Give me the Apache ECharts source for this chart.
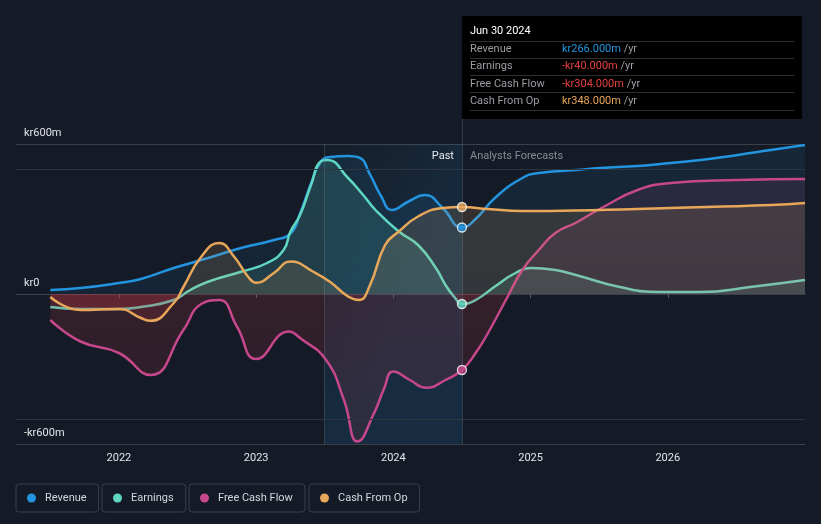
<!DOCTYPE html>
<html><head><meta charset="utf-8">
<script src="https://cdn.jsdelivr.net/npm/echarts@6/dist/echarts.min.js"></script>
<style>html,body{margin:0;padding:0;background:#151b26;}#c{width:821px;height:524px;}</style>
</head><body><div id="c"></div>
<script>
// ---- data (x in decimal years, values in kr millions) ----
const yearTicks = [2022, 2023, 2024, 2025, 2026];
const yTickValues = [-600, 0, 600];
const yTickLabels = ['-kr600m', 'kr0', 'kr600m'];
const guideValues = [500, -500];
const pastRange = [2023.5, 2024.5];
const currentX = 2024.5;
const currentLabel = 'Jun 30 2024';
const seriesNames = ['Revenue', 'Earnings', 'Free Cash Flow', 'Cash From Op'];

const revenue = [[2021.5,16],[2021.72,24],[2022.0,44],[2022.16,60],[2022.4,104],[2022.65,144],[2022.89,184],[2023.13,216],[2023.25,242],[2023.32,322],[2023.40,442],[2023.47,528],[2023.54,548],[2023.67,552],[2023.75,546],[2023.83,478],[2023.91,392],[2023.99,336],[2024.11,370],[2024.23,396],[2024.36,344],[2024.5,266],[2024.6,300],[2024.74,384],[2024.94,464],[2025.06,484],[2025.33,496],[2025.51,504],[2025.78,512],[2026.02,524],[2026.24,536],[2026.51,556],[2026.75,576],[2027.0,596]];
const earnings = [[2021.5,-52],[2021.72,-60],[2022.0,-60],[2022.16,-52],[2022.4,-24],[2022.52,16],[2022.65,49],[2022.89,89],[2023.08,124],[2023.2,176],[2023.25,250],[2023.32,316],[2023.40,436],[2023.47,530],[2023.52,536],[2023.67,464],[2023.78,396],[2023.87,336],[2024.04,250],[2024.18,196],[2024.31,104],[2024.38,36],[2024.45,-16],[2024.5,-40],[2024.6,-24],[2024.74,30],[2024.89,84],[2025.01,104],[2025.18,96],[2025.33,76],[2025.65,28],[2025.94,8],[2026.24,8],[2026.6,28],[2027.0,56]];
const freeCashFlow = [[2021.5,-104],[2021.72,-190],[2022.0,-236],[2022.23,-324],[2022.47,-144],[2022.6,-40],[2022.73,-24],[2022.86,-130],[2023.0,-260],[2023.24,-150],[2023.32,-176],[2023.51,-264],[2023.64,-424],[2023.74,-590],[2023.86,-476],[2023.93,-382],[2024.0,-310],[2024.12,-344],[2024.24,-375],[2024.38,-344],[2024.5,-304],[2024.6,-236],[2024.69,-156],[2024.82,-24],[2024.94,96],[2025.06,176],[2025.18,244],[2025.33,285],[2025.53,348],[2025.78,416],[2026.02,444],[2026.51,456],[2027.0,460]];
const cashFromOp = [[2021.5,-12],[2021.72,-64],[2022.0,-60],[2022.16,-96],[2022.23,-107],[2022.4,-36],[2022.47,28],[2022.6,149],[2022.73,204],[2022.84,149],[2022.94,70],[2023.0,45],[2023.13,84],[2023.25,130],[2023.42,88],[2023.54,48],[2023.67,-10],[2023.75,-24],[2023.83,36],[2023.94,196],[2024.04,250],[2024.18,310],[2024.36,344],[2024.5,348],[2024.69,340],[2024.94,332],[2025.33,334],[2026.02,344],[2026.75,356],[2027.0,364]];

// ---- styling ----
const colors = ['#2394df', '#5fd6c1', '#c6478b', '#e9a75a'];
const rgbs = [[35,148,223],[95,214,193],[198,71,139],[233,167,90]];
const areaAlpha = [0.14, 0.22, 0.16, 0.22];
const red = [205,55,65];
const GRID = {left:16, right:16, top:144, bottom:80};
const H = 524;
const dataSets = [revenue, earnings, freeCashFlow, cashFromOp];

function rgba(c,a){return 'rgba('+c[0]+','+c[1]+','+c[2]+','+a+')';}
function areaGrad(i){
  const y0 = GRID.top, y1 = H - GRID.bottom;
  return {type:'linear', x:0, y:y0, x2:0, y2:y1, global:true, colorStops:[
    {offset:0, color:rgba(rgbs[i], areaAlpha[i])},
    {offset:0.5, color:rgba(rgbs[i], areaAlpha[i]*0.85)},
    {offset:0.5, color:rgba(red, 0.23)},
    {offset:1, color:rgba(red, 0.17)}]};
}
const drawOrder = [0, 2, 3, 1];
const series = drawOrder.map(i => ({
  name: seriesNames[i], type:'line', data: dataSets[i], smooth:0.5,
  symbol:'none', lineStyle:{color:colors[i], width:2.5}, itemStyle:{color:colors[i]},
  areaStyle:{color:areaGrad(i), origin:0}, z: 2 + i,
}));
// past region + guides on first series
series[0].markArea = {silent:true, z:1, itemStyle:{color:{type:'linear',x:0,y:0,x2:1,y2:0.3,colorStops:[{offset:0,color:'rgba(35,148,223,0.02)'},{offset:1,color:'rgba(35,148,223,0.14)'}]}},
  data:[[{xAxis:pastRange[0]},{xAxis:pastRange[1]}]]};
series[0].markLine = {silent:true, symbol:'none', label:{show:false}, animation:false,
  data: guideValues.map(v=>({yAxis:v, lineStyle:{color:'#2f353f', width:1, type:'solid'}}))
   .concat(pastRange.map(v=>({xAxis:v, lineStyle:{color:'rgba(110,130,150,0.35)', width:1, type:'solid'}})))};
// markers at current point
series.push({type:'scatter', z:20, symbol:'circle', symbolSize:9, silent:true,
  data: dataSets.map((d,i)=>{const p=d.find(q=>q[0]===currentX); return {value:p, itemStyle:{color:colors[i], borderColor:'#ffffff', borderWidth:1.3}};})});

const legends = seriesNames.map((n,i)=>({
  data:[{name:n, itemStyle:{color:colors[i]}}], left:[16,102,189,309][i], top:484, orient:'horizontal',
  padding:[7,12,7,11], borderColor:'#3a404b', borderWidth:1, borderRadius:3,
  icon:'circle', itemWidth:9, itemHeight:9, selectedMode:false,
  textStyle:{color:'#d3d6db', fontSize:11, fontFamily:'Roboto', padding:[0,0,0,4], lineHeight:14}
}));

const chart = echarts.init(document.getElementById('c'), null, {renderer:'canvas'});
chart.setOption({
  backgroundColor:'#151b26', animation:false,
  grid:{left:GRID.left, right:GRID.right, top:GRID.top, bottom:GRID.bottom, containLabel:false},
  legend: legends,
  xAxis:{type:'value', min:2021.25, max:2027,
    axisLine:{show:true, lineStyle:{color:'#3c424d'}},
    axisTick:{show:true, customValues:yearTicks, length:4, lineStyle:{color:'#555c68'}},
    axisLabel:{customValues:yearTicks, formatter:v=>String(Math.round(v)), color:'#e2e4e8', fontSize:11, fontFamily:'Roboto', margin:9},
    splitLine:{show:false}},
  yAxis:{type:'value', min:-600, max:600, interval:600,
    axisLine:{show:false}, axisTick:{show:false},
    axisLabel:{inside:true, showMinLabel:true, showMaxLabel:true, margin:8, align:'left', verticalAlign:'bottom', padding:[0,0,5,0],
      color:'#e2e4e8', fontSize:11, fontFamily:'Roboto', formatter:v=>yTickLabels[yTickValues.indexOf(v)]},
    splitLine:{show:true, lineStyle:{color:['#3a404a','#ffffff','#3a404a'], width:1}}},
  series: series
});

// annotation box (tooltip-like)
function fmt(v){return (v<0?'-kr':'kr') + Math.abs(v).toFixed(3) + 'm';}
const cx = chart.convertToPixel({xAxisIndex:0}, currentX);
const topY = GRID.top;
const boxX = cx, boxY = 16, boxW = 340, boxH = 103;
const rowY = [49.5, 66.5, 84, 101];
const sepY = [41.5, 58.5, 75.5, 92.5, 110.5];
const g = [];
g.push({type:'rect', shape:{x:boxX, y:boxY, width:boxW, height:boxH}, style:{fill:'#000000'}, z:50});
g.push({type:'line', shape:{x1:cx+0.5, y1:boxY+boxH, x2:cx+0.5, y2:topY}, style:{stroke:'rgba(110,130,150,0.35)', lineWidth:1}, z:50});
sepY.forEach(y=>g.push({type:'line', shape:{x1:boxX+8, y1:y, x2:boxX+332, y2:y}, style:{stroke:'#2f2f2f', lineWidth:1}, z:51}));
g.push({type:'text', x:boxX+8, y:31.5, style:{text:currentLabel, fill:'#ffffff', fontSize:11, fontFamily:'Roboto', verticalAlign:'middle'}, z:52});
seriesNames.forEach((n,i)=>{
  const v = dataSets[i].find(q=>q[0]===currentX)[1];
  const vc = v<0 ? '#e5413f' : colors[i];
  g.push({type:'text', x:boxX+8, y:rowY[i], style:{text:n, fill:'#9a9da3', fontSize:11, fontFamily:'Roboto', verticalAlign:'middle'}, z:52});
  g.push({type:'text', x:boxX+100, y:rowY[i], style:{text:'{v|'+fmt(v)+'} {u|/yr}', verticalAlign:'middle', fontSize:11, fontFamily:'Roboto',
    rich:{v:{fill:vc, fontSize:11, fontFamily:'Roboto'}, u:{fill:'#9a9da3', fontSize:11, fontFamily:'Roboto'}}}, z:52});
});
g.push({type:'text', x:cx-8, y:156.5, style:{text:'Past', fill:'#e6e8ec', fontSize:11, fontFamily:'Roboto', align:'right', verticalAlign:'middle'}, z:30});
g.push({type:'text', x:cx+8, y:156.5, style:{text:'Analysts Forecasts', fill:'#868b93', fontSize:11, fontFamily:'Roboto', align:'left', verticalAlign:'middle'}, z:30});
chart.setOption({graphic:{elements:g}});
</script></body></html>
